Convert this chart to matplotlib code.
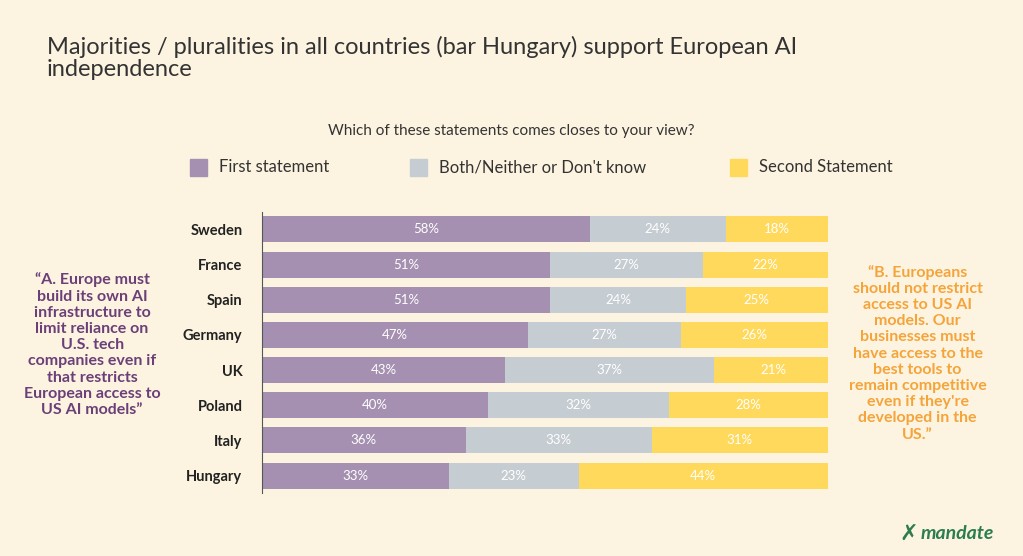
import matplotlib.pyplot as plt
import numpy as np

countries = ["Sweden", "France", "Spain", "Germany", "UK", "Poland", "Italy", "Hungary"]
first = [58, 51, 51, 47, 43, 40, 36, 33]
both = [24, 27, 24, 27, 37, 32, 33, 23]
second = [18, 22, 25, 26, 21, 28, 31, 44]
series_names = ["First statement", "Both/Neither or Don't know", "Second Statement"]

bg = "#FCF4E1"
colors = ["#A590B1", "#C5CCD2", "#FFD95C"]

plt.rcParams['font.family'] = ['Lato', 'DejaVu Sans']
fig = plt.figure(figsize=(10.23, 5.56), dpi=100, facecolor=bg)
ax = fig.add_axes([0.256, 0.113, 0.553, 0.506], facecolor=bg)

y = np.arange(len(countries))
left = np.zeros(len(countries))
for vals, col in zip([first, both, second], colors):
    vals = np.array(vals)
    ax.barh(y, vals, left=left, height=0.74, color=col, edgecolor='none')
    for yi, l, v in zip(y, left, vals):
        ax.text(l + v / 2, yi, f"{v}%", ha='center', va='center', color='white', fontsize=9.5)
    left += vals

ax.set_xlim(0, 100)
ax.set_ylim(len(countries) - 0.5, -0.5)
ax.set_yticks(y)
ax.set_yticklabels(countries, fontsize=10.5, fontweight='bold', color='#222222')
ax.tick_params(axis='y', length=0, pad=14)
ax.set_xticks([])
for s in ['top', 'right', 'bottom']:
    ax.spines[s].set_visible(False)
ax.spines['left'].set_color('#555555')
ax.spines['left'].set_linewidth(0.8)

fig.text(0.046, 0.935, "Majorities / pluralities in all countries (bar Hungary) support European AI\nindependence",
         fontsize=17, color='#333333', va='top', linespacing=1.05)
fig.text(0.5, 0.765, "Which of these statements comes closes to your view?", ha='center', va='center',
         fontsize=11, color='#333333')

leg_x = [0.186, 0.401, 0.714]
for x, name, col in zip(leg_x, series_names, colors):
    fig.patches.append(plt.Rectangle((x, 0.684), 0.016, 0.03, transform=fig.transFigure,
                                     color=col))
    fig.text(x + 0.028, 0.699, name, va='center', fontsize=12, color='#333333')

fig.text(0.09, 0.38, "\u201cA. Europe must\nbuild its own AI\ninfrastructure to\nlimit reliance on\nU.S. tech\ncompanies even if\nthat restricts\nEuropean access to\nUS AI models\u201d",
         ha='center', va='center', fontsize=11.5, fontweight='bold', color='#6B3F78', linespacing=1.2)
fig.text(0.897, 0.365, "\u201cB. Europeans\nshould not restrict\naccess to US AI\nmodels. Our\nbusinesses must\nhave access to the\nbest tools to\nremain competitive\neven if they're\ndeveloped in the\nUS.\u201d",
         ha='center', va='center', fontsize=11.5, fontweight='bold', color='#F5A43A', linespacing=1.2)

fig.text(0.888, 0.04, "\u2717", fontsize=16, color='#2E7D4F', ha='center', va='center', fontweight='bold')
fig.text(0.9, 0.04, "mandate", fontsize=14, color='#2E7D4F', va='center', style='italic', fontweight='bold')

fig.savefig("out.png", dpi=100, facecolor=bg)
